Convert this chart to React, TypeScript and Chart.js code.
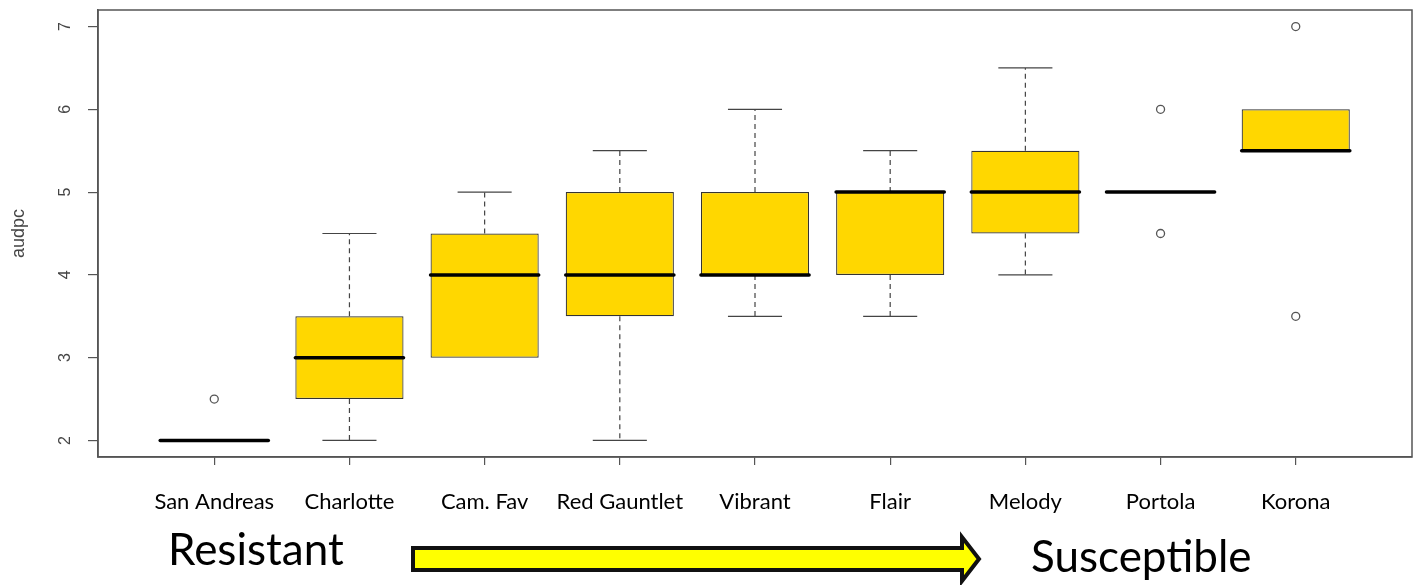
import React, { useEffect, useRef } from "react";
import { Chart, registerables } from "chart.js";

Chart.register(...registerables);

const categories = ["San Andreas", "Charlotte", "Cam. Fav", "Red Gauntlet", "Vibrant", "Flair", "Melody", "Portola", "Korona"];
const whiskerLow = [2, 2, 3, 2, 3.5, 3.5, 4, 5, 5.5];
const q1 = [2, 2.5, 3, 3.5, 4, 4, 4.5, 5, 5.5];
const median = [2, 3, 4, 4, 4, 5, 5, 5, 5.5];
const q3 = [2, 3.5, 4.5, 5, 5, 5, 5.5, 5, 6];
const whiskerHigh = [2, 4.5, 5, 5.5, 6, 5.5, 6.5, 5, 6];
const outliers: number[][] = [[2.5], [], [], [], [], [], [], [6, 4.5], [7, 3.5]];
const yTicks = [2, 3, 4, 5, 6, 7];
const yTitle = "audpc";
const leftNote = "Resistant";
const rightNote = "Susceptible";

const boxPlugin = {
  id: "boxDecor",
  afterDatasetsDraw(chart: any) {
    const { ctx, chartArea } = chart;
    const xs = chart.scales.x;
    const ys = chart.scales.y;
    const meta = chart.getDatasetMeta(0);
    ctx.save();
    categories.forEach((_, i) => {
      const bar = meta.data[i];
      const w = bar ? bar.width : 108;
      const cx = xs.getPixelForValue(i + 1);
      const yLo = ys.getPixelForValue(whiskerLow[i]);
      const yQ1 = ys.getPixelForValue(q1[i]);
      const yQ3 = ys.getPixelForValue(q3[i]);
      const yHi = ys.getPixelForValue(whiskerHigh[i]);
      const yMed = ys.getPixelForValue(median[i]);
      ctx.strokeStyle = "#444";
      ctx.lineWidth = 1.2;
      ctx.setLineDash([5, 4]);
      if (whiskerHigh[i] > q3[i]) {
        ctx.beginPath();
        ctx.moveTo(cx, yQ3);
        ctx.lineTo(cx, yHi);
        ctx.stroke();
      }
      if (whiskerLow[i] < q1[i]) {
        ctx.beginPath();
        ctx.moveTo(cx, yQ1);
        ctx.lineTo(cx, yLo);
        ctx.stroke();
      }
      ctx.setLineDash([]);
      const cw = w / 4;
      if (whiskerHigh[i] > q3[i]) {
        ctx.beginPath();
        ctx.moveTo(cx - cw, yHi);
        ctx.lineTo(cx + cw, yHi);
        ctx.stroke();
      }
      if (whiskerLow[i] < q1[i]) {
        ctx.beginPath();
        ctx.moveTo(cx - cw, yLo);
        ctx.lineTo(cx + cw, yLo);
        ctx.stroke();
      }
      ctx.strokeStyle = "#000";
      ctx.lineWidth = 3.5;
      ctx.lineCap = "round";
      ctx.beginPath();
      ctx.moveTo(cx - w / 2, yMed);
      ctx.lineTo(cx + w / 2, yMed);
      ctx.stroke();
      ctx.lineCap = "butt";
    });
    ctx.strokeStyle = "#555";
    ctx.lineWidth = 1.5;
    ctx.strokeRect(chartArea.left, chartArea.top, chartArea.right - chartArea.left, chartArea.bottom - chartArea.top);
    ctx.restore();
  },
  afterDraw(chart: any) {
    const { ctx } = chart;
    const ys = chart.scales.y;
    ctx.save();
    ctx.fillStyle = "#444";
    ctx.font = "16px 'Liberation Sans', Arial, sans-serif";
    ctx.textAlign = "center";
    ctx.textBaseline = "middle";
    yTicks.forEach((v) => {
      const y = ys.getPixelForValue(v);
      ctx.save();
      ctx.translate(ys.right - 32, y);
      ctx.rotate(-Math.PI / 2);
      ctx.fillText(String(v), 0, 0);
      ctx.restore();
    });
    ctx.fillStyle = "#000";
    ctx.font = "44px Lato, 'Open Sans', sans-serif";
    ctx.textAlign = "left";
    ctx.textBaseline = "alphabetic";
    ctx.fillText(leftNote, 168, 565);
    ctx.fillText(rightNote, 1031, 572);
    ctx.beginPath();
    ctx.moveTo(413, 548);
    ctx.lineTo(962, 548);
    ctx.lineTo(962, 537);
    ctx.lineTo(979, 559);
    ctx.lineTo(962, 581);
    ctx.lineTo(962, 570);
    ctx.lineTo(413, 570);
    ctx.closePath();
    ctx.fillStyle = "#FFFF00";
    ctx.fill();
    ctx.strokeStyle = "#111";
    ctx.lineWidth = 4;
    ctx.lineJoin = "miter";
    ctx.stroke();
    ctx.restore();
  },
};

export default function App() {
  const ref = useRef<HTMLCanvasElement>(null);
  useEffect(() => {
    document.body.style.margin = "0";
    const canvas = ref.current;
    if (!canvas) return;
    const outlierPts: { x: number; y: number }[] = [];
    outliers.forEach((arr, i) => arr.forEach((v) => outlierPts.push({ x: i + 1, y: v })));
    const chart = new Chart(canvas, {
      type: "bar",
      data: {
        datasets: [
          {
            type: "bar",
            data: categories.map((_, i) => ({ x: i + 1, y: [q1[i], q3[i]] })) as any,
            backgroundColor: "#FFD700",
            borderColor: "#333",
            borderWidth: 1.2,
            borderSkipped: false,
            barPercentage: 0.8,
            categoryPercentage: 1,
          } as any,
          {
            type: "scatter",
            data: outlierPts,
            pointRadius: 4,
            pointStyle: "circle",
            backgroundColor: "#fff",
            borderColor: "#555",
            borderWidth: 1.3,
          } as any,
        ],
      },
      options: {
        animation: false,
        responsive: false,
        maintainAspectRatio: false,
        layout: { padding: { top: 10, right: 7, left: 0, bottom: 0 } },
        plugins: { legend: { display: false }, tooltip: { enabled: false } },
        scales: {
          x: {
            type: "linear",
            min: 0.14,
            max: 9.86,
            offset: false,
            afterFit: (s: any) => {
              s.height = 128;
            },
            afterBuildTicks: (s: any) => {
              s.ticks = categories.map((_, i) => ({ value: i + 1 }));
            },
            ticks: {
              callback: (v: any) => categories[Number(v) - 1] ?? "",
              font: { family: "Lato, 'Open Sans', sans-serif", size: 22 },
              color: "#000",
              padding: 24,
              maxRotation: 0,
              minRotation: 0,
              autoSkip: false,
            },
            grid: { offset: false, drawOnChartArea: false, drawTicks: true, tickLength: 8, color: "#555", lineWidth: 1.2 },
            border: { display: true, color: "#555", width: 1.5 },
          },
          y: {
            type: "linear",
            min: 1.8,
            max: 7.2,
            afterFit: (s: any) => {
              s.width = 98;
            },
            afterBuildTicks: (s: any) => {
              s.ticks = yTicks.map((v) => ({ value: v }));
            },
            ticks: { display: false },
            grid: { drawOnChartArea: false, drawTicks: true, tickLength: 10, color: "#555", lineWidth: 1.2 },
            border: { display: true, color: "#555", width: 1.5 },
            title: {
              display: true,
              text: yTitle,
              color: "#444",
              font: { family: "'Liberation Sans', Arial, sans-serif", size: 18 },
              padding: { top: 8, bottom: 0 },
            },
          },
        },
      },
      plugins: [boxPlugin],
    });
    return () => chart.destroy();
  }, []);
  return (
    <div style={{ position: "relative", width: 1419, height: 585, background: "#fff" }}>
      <canvas ref={ref} width={1419} height={585} style={{ display: "block" }} />
    </div>
  );
}
